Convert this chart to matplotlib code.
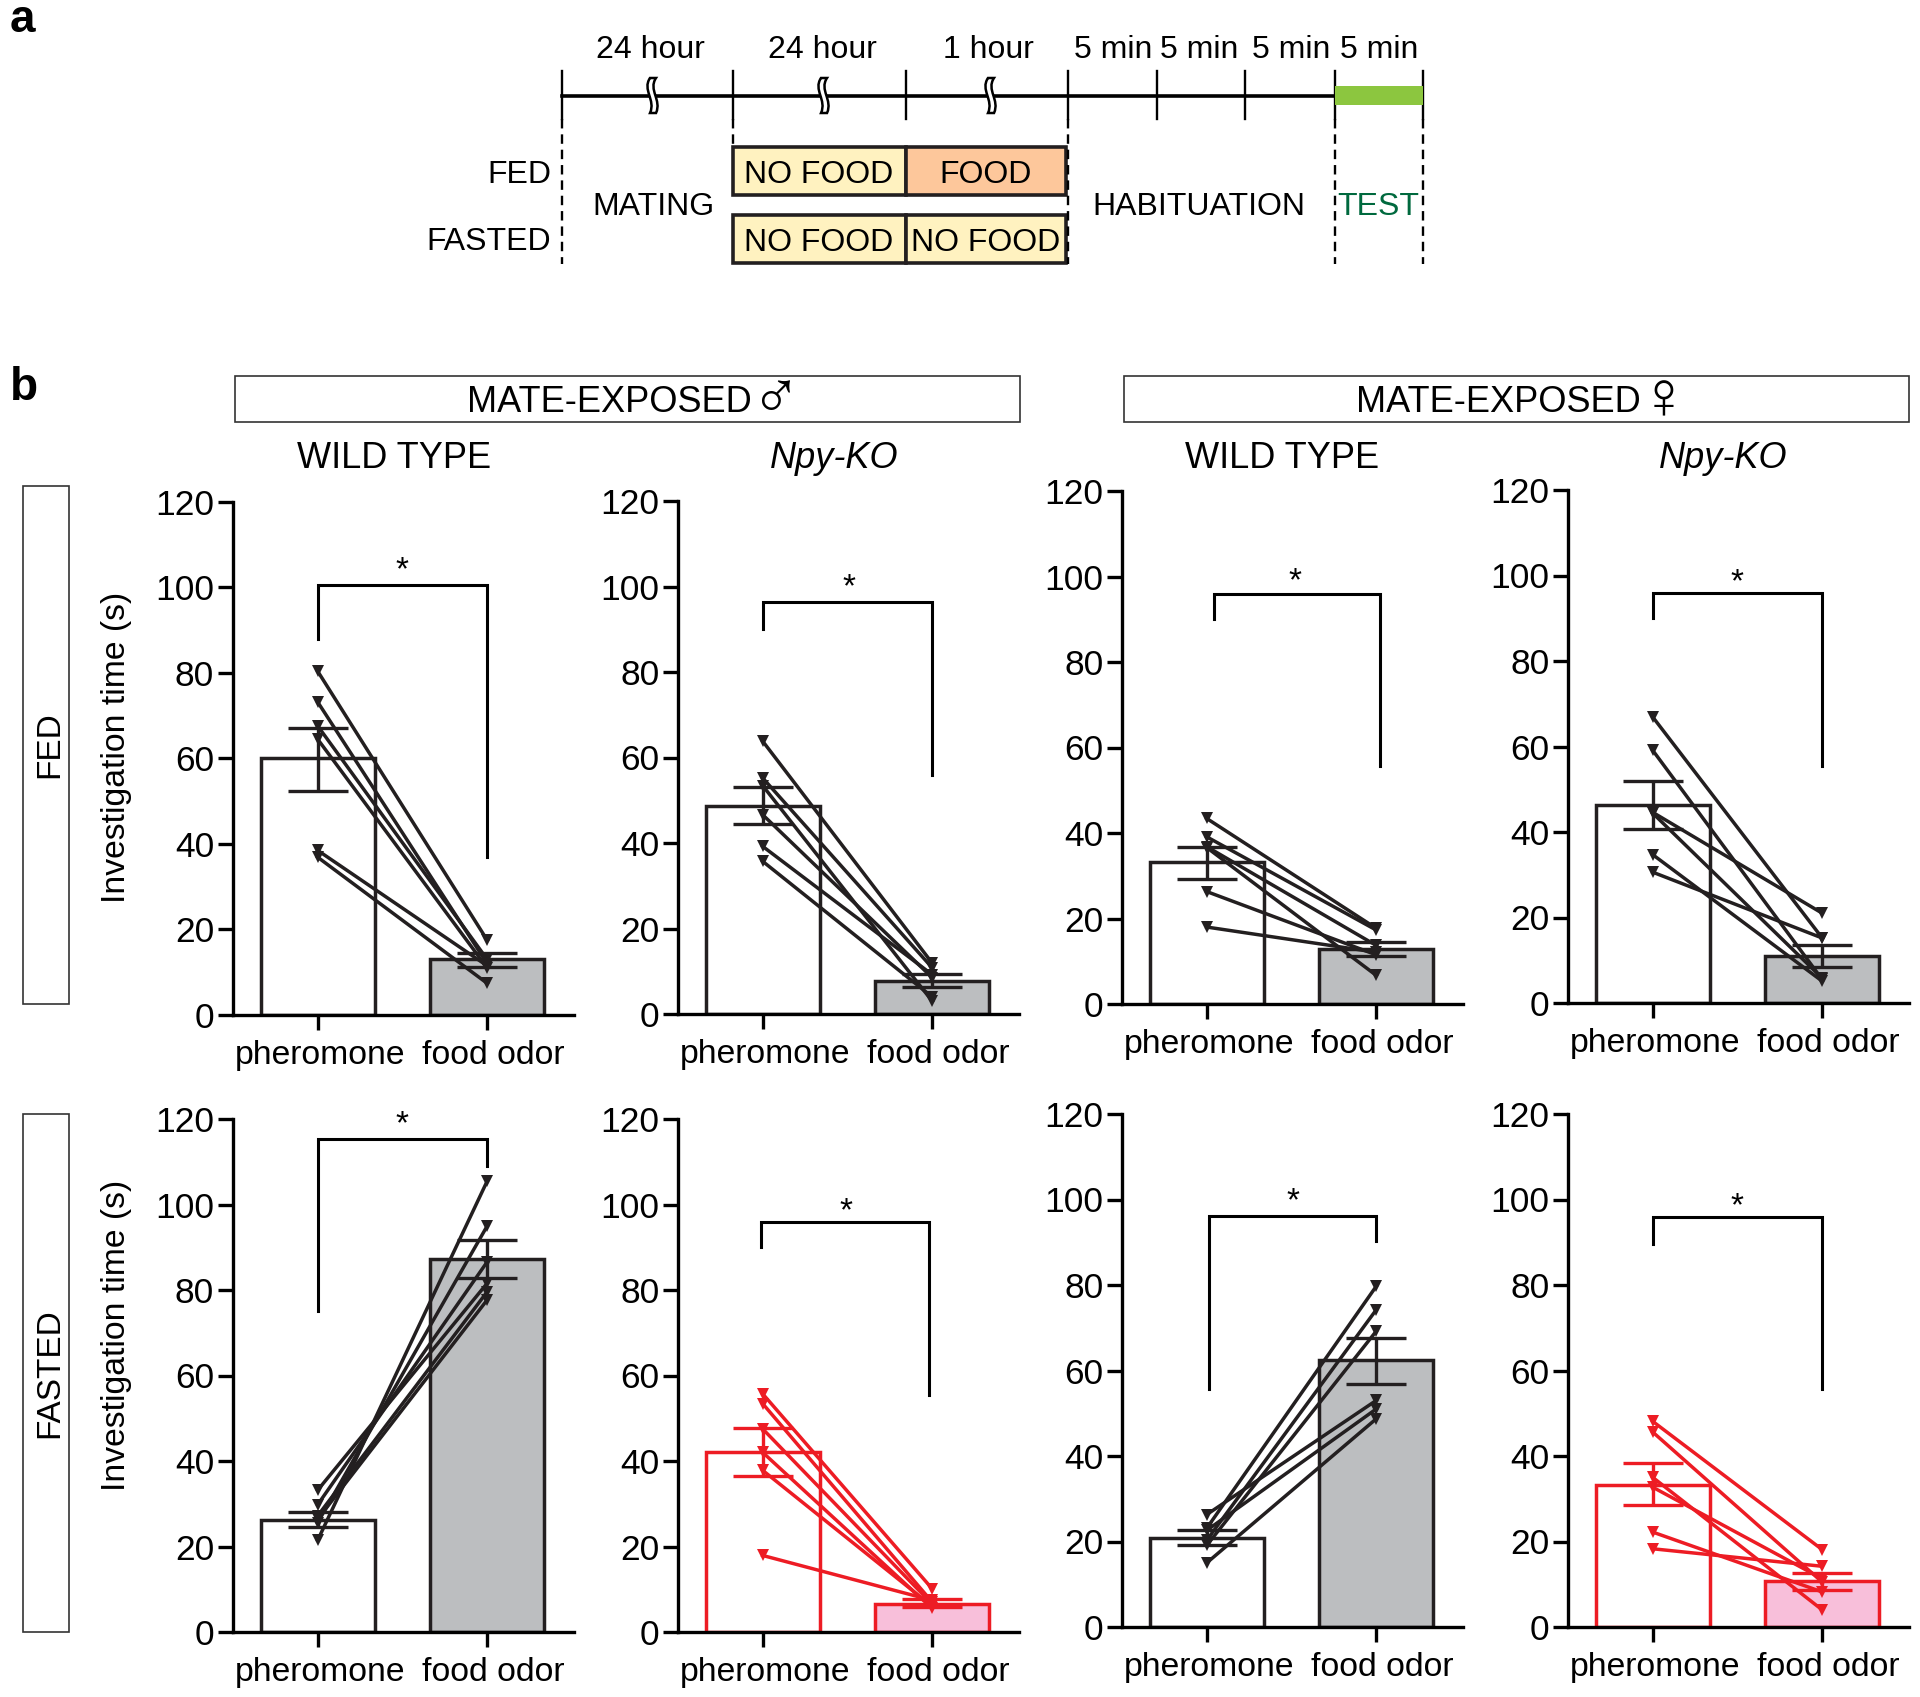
import matplotlib
matplotlib.use('Agg')
import matplotlib.pyplot as plt
from matplotlib.patches import Rectangle, PathPatch
from matplotlib.path import Path
from matplotlib.transforms import ScaledTranslation

plt.rcParams['font.family'] = ['Liberation Sans', 'DejaVu Sans']

W, H = 1920, 1697
BLACK = '#231F20'
RED = '#ED1C24'
GREY = '#BCBEC0'
PINK = '#F8BFDA'

# values, one list per panel and odor
wt_m_fed_pher = [80.4, 73.2, 67.6, 64.5, 38.5, 36.9]
wt_m_fed_food = [17.5, 12.0, 13.0, 11.0, 11.5, 7.4]
ko_m_fed_pher = [63.8, 55.2, 53.4, 46.6, 39.2, 35.7]
ko_m_fed_food = [11.9, 10.8, 3.0, 8.5, 9.2, 4.0]
wt_f_fed_pher = [43.4, 39.1, 36.8, 36.6, 26.3, 18.0]
wt_f_fed_food = [17.7, 17.3, 13.7, 6.7, 11.5, 12.1]
ko_f_fed_pher = [66.9, 59.1, 44.6, 44.4, 34.7, 30.6]
ko_f_fed_food = [15.2, 5.5, 21.0, 5.8, 5.1, 15.2]
wt_m_fast_pher = [33.2, 29.8, 27.2, 26.4, 25.6, 21.5]
wt_m_fast_food = [81.6, 86.6, 79.6, 77.7, 95.0, 105.5]
ko_m_fast_pher = [55.7, 53.4, 47.5, 42.0, 37.8, 17.9]
ko_m_fast_food = [10.1, 7.0, 6.5, 5.5, 6.0, 7.4]
wt_f_fast_pher = [26.3, 23.1, 22.6, 20.3, 19.1, 15.0]
wt_f_fast_food = [53.0, 79.7, 51.0, 74.2, 69.2, 48.7]
ko_f_fast_pher = [48.1, 45.6, 35.0, 32.7, 22.2, 18.3]
ko_f_fast_food = [18.1, 10.5, 4.0, 11.3, 8.2, 14.2]

pher_lists = [wt_m_fed_pher, ko_m_fed_pher, wt_f_fed_pher, ko_f_fed_pher,
              wt_m_fast_pher, ko_m_fast_pher, wt_f_fast_pher, ko_f_fast_pher]
food_lists = [wt_m_fed_food, ko_m_fed_food, wt_f_fed_food, ko_f_fed_food,
              wt_m_fast_food, ko_m_fast_food, wt_f_fast_food, ko_f_fast_food]

pher_mean = [60.0, 48.7, 33.1, 46.4, 26.3, 42.0, 20.8, 33.3]
food_mean = [13.0, 7.8, 12.8, 11.1, 87.2, 6.6, 62.4, 10.7]
pher_hi = [67.2, 53.0, 36.8, 52.0, 28.1, 47.7, 22.6, 38.3]
pher_lo = [52.5, 44.4, 29.2, 40.6, 24.5, 36.6, 19.1, 28.6]
food_hi = [14.5, 9.4, 14.5, 13.6, 91.7, 7.8, 67.7, 12.7]
food_lo = [11.3, 6.3, 11.2, 8.4, 82.8, 5.8, 56.8, 8.7]

bracket_top = [100.7, 96.4, 96.0, 95.8, 115.4, 95.8, 96.1, 95.9]
bracket_left = [88.0, 90.0, 90.0, 90.0, 75.0, 90.0, 55.7, 89.5]
bracket_right = [37.0, 56.0, 55.6, 55.5, 109.0, 55.5, 90.4, 55.7]
bracket_x0 = [0, 0, 0.04, 0, 0, -0.01, 0.015, 0]
bracket_x1 = [1, 1, 1.02, 1, 1, 0.98, 1, 1]
star_x = [0.5, 0.51, 0.52, 0.5, 0.5, 0.49, 0.51, 0.5]
star_y = [103.9, 99.6, 98.7, 98.4, 118.6, 98.4, 99.5, 98.3]

categories = ['pheromone', 'food odor']
y_ticks = [0, 20, 40, 60, 80, 100, 120]
is_red = [False, False, False, False, False, True, False, True]

# panel spots in pixels: axis x, baseline y
axis_x = [233, 678, 1122, 1568, 233, 678, 1122, 1568]
axis_y = [1015, 1014, 1004, 1003, 1632, 1632, 1627, 1627]

# timeline spots for the schedule in panel a
time_ticks = [562, 733, 906, 1068, 1157, 1245, 1335, 1423]
time_labels = ['24 hour', '24 hour', '1 hour', '5 min', '5 min', '5 min', '5 min']
time_label_x = [650, 822, 988, 1113, 1199, 1291, 1379]
break_x = [653, 824, 991]

fig = plt.figure(figsize=(W / 100, H / 100), dpi=100)
over = fig.add_axes([0, 0, 1, 1], zorder=5)
over.set_xlim(0, W)
over.set_ylim(H, 0)
over.axis('off')
over.patch.set_alpha(0)

FS = 24.3

# panel a
over.plot([time_ticks[0], time_ticks[6]], [96, 96], color='k', lw=2.6, zorder=2)
for x in time_ticks:
    over.plot([x, x], [71, 119], color='k', lw=1.7, zorder=2)
for x in [time_ticks[0], time_ticks[3], time_ticks[6], time_ticks[7]]:
    over.plot([x, x], [119, 264], color='k', lw=1.7, dashes=(4, 2.5), zorder=4)
over.plot([733, 733], [119, 146], color='k', lw=1.7, dashes=(4, 2.5))
over.add_patch(Rectangle((1335, 86), 88, 19, fc='#8CC63F', ec='none', zorder=3))
for x, t in zip(time_label_x, time_labels):
    over.text(x, 58, t, ha='center', va='baseline', fontsize=23)
for x in break_x:
    verts = [(x - 3, 78), (x - 11, 90), (x + 3, 100), (x - 3, 113),
             (x + 3, 113), (x + 9, 100), (x - 5, 90), (x + 3, 78), (x - 3, 78)]
    codes = [Path.MOVETO, Path.CURVE4, Path.CURVE4, Path.CURVE4, Path.LINETO,
             Path.CURVE4, Path.CURVE4, Path.CURVE4, Path.CLOSEPOLY]
    over.add_patch(PathPatch(Path(verts, codes), fc='w', ec='k', lw=1.8, zorder=3))

boxes = [(733, 147, 173, '#FFF2C0', 'NO FOOD'), (906, 147, 160, '#FDC79B', 'FOOD'),
         (733, 215, 173, '#FFF2C0', 'NO FOOD'), (906, 215, 160, '#FFF2C0', 'NO FOOD')]
for bx, by, bw, col, label in boxes:
    over.add_patch(Rectangle((bx, by), bw, 48, fc=col, ec=BLACK, lw=2.6, zorder=2))
    over.text(bx + bw / 2 + (-1 if bw == 173 else 0), by + 36, label, ha='center', va='baseline', fontsize=23, zorder=3)
over.text(551, 183, 'FED', ha='right', va='baseline', fontsize=23)
over.text(551, 250, 'FASTED', ha='right', va='baseline', fontsize=23)
over.text(653, 215, 'MATING', ha='center', va='baseline', fontsize=23)
over.text(1199, 215, 'HABITUATION', ha='center', va='baseline', fontsize=23)
over.text(1378, 215, 'TEST', ha='center', va='baseline', fontsize=23, color='#00693E')

over.text(10, 32, 'a', fontsize=33, fontweight='bold', va='baseline')
over.text(10, 400, 'b', fontsize=33, fontweight='bold', va='baseline')

# headers and row boxes
for x, sym in [(235, '♂'), (1124, '♀')]:
    over.add_patch(Rectangle((x, 376), 785, 46, fc='w', ec='#333333', lw=1.2))
    over.text(x + 232, 412, 'MATE-EXPOSED', ha='left', va='baseline', fontsize=26)
    over.text(x + 540, 418, sym, ha='center', va='baseline', fontsize=48)
for x, t, style in [(394, 'WILD TYPE', 'normal'), (834, 'Npy-KO', 'italic'),
                    (1282, 'WILD TYPE', 'normal'), (1723, 'Npy-KO', 'italic')]:
    over.text(x, 468, t, ha='center', va='baseline', fontsize=26, style=style)
for y, t in [(486, 'FED'), (1114, 'FASTED')]:
    over.add_patch(Rectangle((23, y), 46, 518, fc='w', ec='#333333', lw=1.2))
    over.text(49.5, y + 259, t, rotation=90, ha='center', va='center', fontsize=24)
for y in [747, 1335]:
    over.text(116, y, 'Investigation time (s)', rotation=90, ha='center', va='center', fontsize=FS)

# panel b
for i in range(8):
    col = RED if is_red[i] else BLACK
    left = axis_x[i] / W
    bottom = 1 - axis_y[i] / H
    ax = fig.add_axes([left, bottom, 341 / W, 513 / H])
    ax.patch.set_alpha(0)
    ax.set_xlim(-0.5, 1.512)
    ax.set_ylim(0, 120)
    ax.bar([0], [pher_mean[i]], width=0.675, fc='w', ec=col, lw=2.5, zorder=2)
    ax.bar([1], [food_mean[i]], width=0.675, fc=PINK if is_red[i] else GREY, ec=col, lw=2.5, zorder=2)
    ax.vlines(0, pher_lo[i], pher_hi[i], color=col, lw=2.4, zorder=3)
    ax.vlines(1, food_lo[i], food_hi[i], color=col, lw=2.4, zorder=3)
    ax.plot([0, 0], [pher_lo[i], pher_hi[i]], ls='none', marker='_', ms=43, mew=2.4, color=col, zorder=3)
    ax.plot([1, 1], [food_lo[i], food_hi[i]], ls='none', marker='_', ms=43, mew=2.4, color=col, zorder=3)
    for a, b in zip(pher_lists[i], food_lists[i]):
        ax.plot([0, 1], [a, b], color=col, lw=2.5, marker='v', ms=9, mew=0, zorder=4, clip_on=False)
    # significance bracket
    ax.plot([bracket_x0[i], bracket_x0[i], bracket_x1[i], bracket_x1[i]],
            [bracket_left[i], bracket_top[i], bracket_top[i], bracket_right[i]],
            color='k', lw=2.2, zorder=5, solid_joinstyle='miter')
    ax.text(star_x[i], star_y[i], '*', ha='center', va='center', fontsize=24)
    for s in ['top', 'right']:
        ax.spines[s].set_visible(False)
    for s in ['left', 'bottom']:
        ax.spines[s].set_linewidth(2.4)
        ax.spines[s].set_zorder(6)
    ax.set_xticks([0, 1])
    ax.set_xticklabels(categories, fontsize=FS)
    ax.set_yticks(y_ticks)
    ax.tick_params(axis='y', labelsize=25.5, length=10.5, width=2.4, pad=3)
    ax.tick_params(axis='x', length=10.5, width=2.4, pad=7.5)
    for lbl, dx in zip(ax.get_xticklabels(), [2, 6]):
        lbl.set_transform(lbl.get_transform() + ScaledTranslation(dx / 100, 0, fig.dpi_scale_trans))

fig.savefig('out.png', dpi=100)
